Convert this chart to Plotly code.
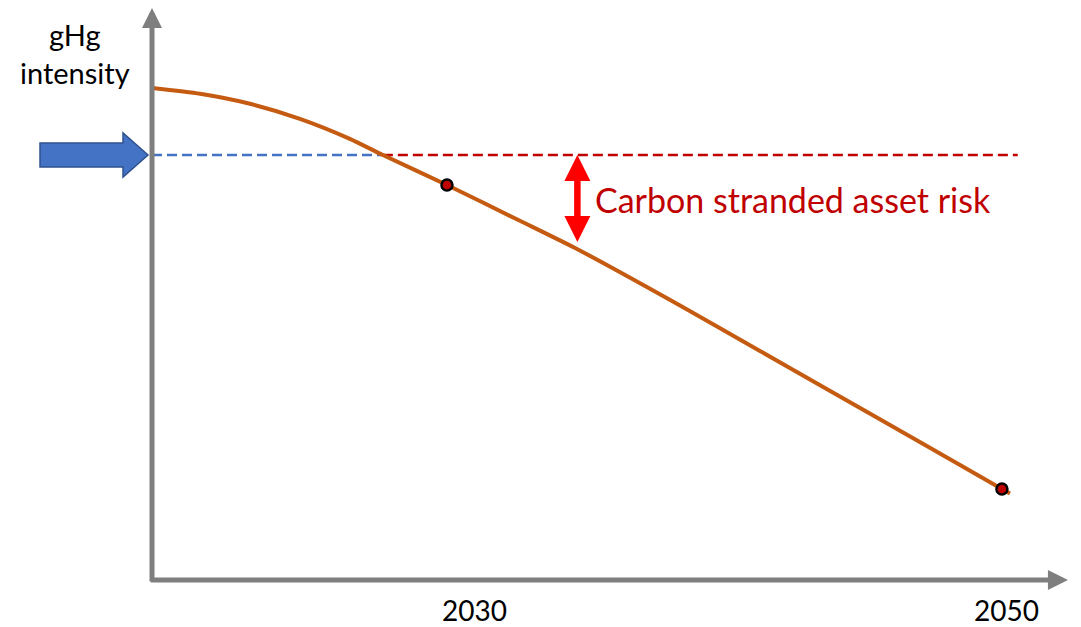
import plotly.graph_objects as go

# ---- data (years vs. GHG intensity, arbitrary units) ----
curve_years = [2019.37, 2021.10, 2022.90, 2024.70, 2026.50, 2027.69, 2030.00, 2032.63,
               2034.72, 2038.40, 2041.28, 2044.16, 2047.04, 2050.00, 2050.29]
curve_intensity = [98.4, 97.24, 95.24, 92.24, 88.24, 85.0, 79.0, 71.84,
                   66.1, 54.9, 45.8, 36.68, 27.6, 18.2, 17.3]
marker_years = [2030, 2050]
marker_intensity = [79.0, 18.2]
threshold = 85.0
cross_year = 2027.69
threshold_end_year = 2050.57
origin_year = 2019.37
risk_year = 2034.70
risk_low = 67.3
risk_label_y = 76.2
tick_years = [2030, 2050]
tick_labels = ["2030", "2050"]
tick_shift = [28, 5]
x_axis_tip = 2052.38
y_axis_tip = 114.4

GRAY = "#7F7F7F"
ORANGE = "#C55A11"
DARKRED = "#C00000"
BLUE = "#4472C4"
FONT = "Lato, Calibri, sans-serif"

fig = go.Figure()

# threshold lines
fig.add_trace(go.Scatter(x=[origin_year, cross_year], y=[threshold, threshold], mode="lines",
                         line=dict(color=BLUE, width=2.5, dash="10px,5px"), hoverinfo="skip"))
fig.add_trace(go.Scatter(x=[cross_year, threshold_end_year], y=[threshold, threshold], mode="lines",
                         line=dict(color=DARKRED, width=2.5, dash="10px,5px"), hoverinfo="skip"))
# curve
fig.add_trace(go.Scatter(x=curve_years, y=curve_intensity, mode="lines",
                         line=dict(color=ORANGE, width=4, shape="spline", smoothing=0.6), hoverinfo="skip"))
# markers
fig.add_trace(go.Scatter(x=marker_years, y=marker_intensity, mode="markers",
                         marker=dict(color=DARKRED, size=11, line=dict(color="black", width=2.5)),
                         hoverinfo="skip"))

annotations = []
# axes with arrow heads
annotations.append(dict(x=origin_year, y=y_axis_tip, ax=origin_year, ay=-0.6, xref="x", yref="y",
                        axref="x", ayref="y", text="", showarrow=True, arrowhead=2, arrowsize=0.8,
                        arrowwidth=5, arrowcolor=GRAY, standoff=0))
annotations.append(dict(x=x_axis_tip, y=0, ax=origin_year - 0.1, ay=0, xref="x", yref="y",
                        axref="x", ayref="y", text="", showarrow=True, arrowhead=2, arrowsize=0.8,
                        arrowwidth=5, arrowcolor=GRAY, standoff=0))
# red double arrow
annotations.append(dict(x=risk_year, y=threshold, ax=risk_year, ay=risk_low, xref="x", yref="y",
                        axref="x", ayref="y", text="", showarrow=True, arrowhead=2, startarrowhead=2,
                        arrowside="end+start", arrowsize=0.8, startarrowsize=0.8,
                        arrowwidth=6.5, arrowcolor="#FF0000", standoff=0, startstandoff=0))
# texts
annotations.append(dict(x=risk_year, y=risk_label_y, xref="x", yref="y",
                        text="Carbon stranded asset risk", showarrow=False, xanchor="left",
                        xshift=16, font=dict(family=FONT, size=34, color=DARKRED)))
annotations.append(dict(x=0.0629, y=0.926, xref="paper", yref="paper", text="gHg<br>intensity",
                        showarrow=False, xanchor="center", yanchor="middle", align="center",
                        font=dict(family=FONT, size=29, color="black")))
for yr, lab, sh in zip(tick_years, tick_labels, tick_shift):
    annotations.append(dict(x=yr, y=0, xref="x", yref="y", text=lab, showarrow=False,
                            xshift=sh, yshift=-30, yanchor="middle",
                            font=dict(family=FONT, size=28, color="black")))

shapes = [
    # blue block arrow pointing to the threshold
    dict(type="path", xref="x", yref="y", xsizemode="pixel", ysizemode="pixel",
         xanchor=origin_year, yanchor=threshold,
         path="M -112,-12 L -29,-12 L -29,-22 L -4,0 L -29,22 L -29,12 L -112,12 Z",
         fillcolor=BLUE, line=dict(color="#2F528F", width=1.5), layer="above"),
]

# the page body adds an 8px margin, so the figure is 8px smaller than the window
fig.update_layout(
    width=1073, height=619, margin=dict(l=0, r=0, t=0, b=0),
    paper_bgcolor="white", plot_bgcolor="white", showlegend=False,
    xaxis=dict(range=[2014.18, 2052.85], visible=False, fixedrange=True),
    yaxis=dict(range=[-9.4, 114.4], visible=False, fixedrange=True),
    annotations=annotations, shapes=shapes,
)

fig.write_html("out.html")
